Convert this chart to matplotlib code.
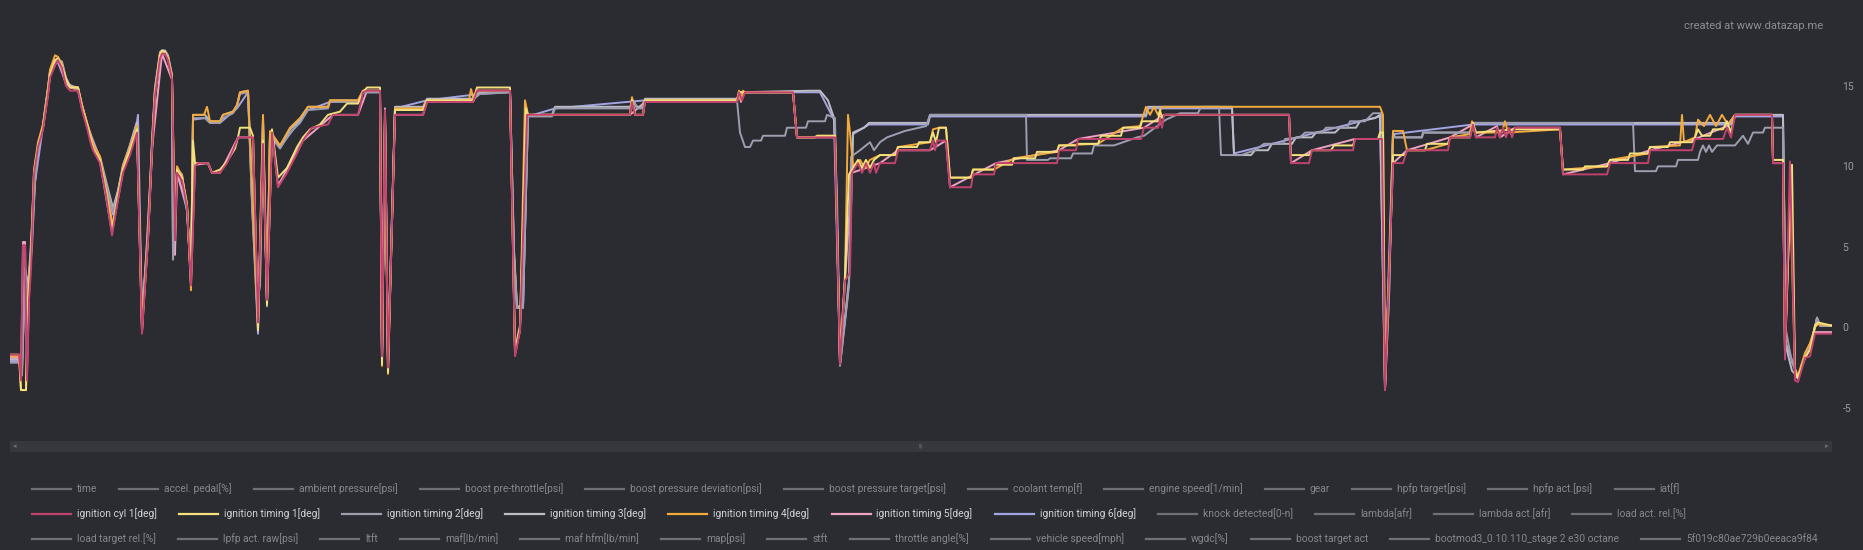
import matplotlib
matplotlib.use("Agg")
import matplotlib.pyplot as plt
from matplotlib.lines import Line2D
from matplotlib.patches import Rectangle

W, H = 1863, 550
BG = "#2b2c31"

# readings: (time [s], ignition angle [deg])
ign_cyl1 = [
    (0.0, -1.7), (0.9, -1.7), (1.1, -3.3), (1.3, 5.1), (1.5, 5.1), (1.7, -3.3), (1.9, 1.7), (2.1, 3.6),
    (2.4, 9.5), (2.8, 11.2), (3.3, 12.3), (3.8, 14.4), (4.0, 15.5), (4.5, 16.3), (4.8, 16.6), (5.2, 16.1),
    (5.6, 15.0), (6.0, 14.7), (6.8, 14.7), (7.2, 13.5), (7.7, 12.4), (8.0, 11.6), (8.3, 11.0), (9.0, 10.2),
    (9.6, 8.2), (10.2, 5.7), (10.7, 7.6), (11.3, 9.6), (12.0, 10.7), (12.7, 12.1), (13.2, -0.4), (13.8, 5.4),
    (14.2, 11.0), (14.5, 14.4), (15.0, 16.7), (15.2, 17.0), (15.5, 17.0), (15.8, 16.6), (16.2, 15.4),
    (16.5, 5.4), (16.7, 9.6), (17.2, 9.1), (17.7, 7.5), (18.1, 2.6), (18.5, 10.0), (18.8, 10.2), (19.8, 10.2),
    (20.2, 9.6), (21.0, 9.6), (21.7, 10.2), (22.3, 11.0), (22.8, 11.8), (24.3, 11.8), (24.8, 0.3), (25.3, 11.4),
    (25.7, 1.7), (26.2, 12.1), (26.8, 8.7), (27.7, 9.6), (28.7, 10.8), (29.3, 11.6), (30.2, 12.4), (31.8, 12.6),
    (32.3, 13.2), (34.8, 13.2), (35.3, 14.6), (35.7, 14.7), (37.0, 14.7), (37.2, -1.8), (37.5, 13.5),
    (37.8, -2.5), (38.5, 13.2), (41.3, 13.2), (41.7, 14.0), (46.3, 14.0), (46.7, 14.7), (50.0, 14.7),
    (50.5, -1.8), (51.0, -0.2), (51.7, 13.2), (62.0, 13.2), (62.2, 14.0), (62.5, 13.2), (63.3, 13.2),
    (63.5, 14.0), (72.7, 14.0), (72.9, 14.6), (73.2, 14.1), (73.5, 14.6), (78.3, 14.6), (78.7, 11.8),
    (82.5, 11.8), (83.0, -2.3), (83.5, 2.9), (84.0, 3.4), (84.2, 9.6), (84.8, 10.2), (85.2, 9.6), (85.6, 10.2),
    (86.0, 9.6), (86.4, 10.2), (86.6, 9.6), (87.0, 10.2), (88.5, 10.2), (88.8, 11.0), (92.0, 11.0),
    (92.3, 11.6), (92.5, 11.0), (92.7, 11.6), (93.6, 11.6), (94.0, 8.7), (96.1, 8.7), (96.3, 9.5), (98.4, 9.5),
    (98.6, 10.2), (104.7, 10.2), (104.9, 11.0), (106.6, 11.0), (106.8, 11.7), (113.1, 11.7), (113.4, 12.4),
    (114.8, 12.4), (115.0, 13.0), (115.2, 12.4), (115.4, 13.2), (127.9, 13.2), (128.1, 10.2), (129.9, 10.2),
    (130.2, 11.0), (134.3, 11.0), (134.5, 11.7), (137.2, 11.7), (137.5, -3.9), (138.0, 4.8), (138.3, 10.2),
    (139.3, 10.2), (139.7, 11.0), (143.8, 11.0), (144.0, 11.8), (146.0, 11.8), (146.3, 12.6), (146.6, 11.8),
    (148.5, 11.8), (148.7, 12.4), (149.0, 11.8), (149.3, 12.4), (149.6, 11.8), (149.9, 12.4), (150.2, 11.8),
    (150.5, 12.4), (155.0, 12.4), (155.3, 9.5), (159.7, 9.5), (160.0, 10.2), (163.8, 10.2), (164.0, 11.0),
    (168.2, 11.0), (168.5, 11.7), (171.3, 11.7), (171.7, 12.4), (172.1, 11.8), (172.5, 13.2), (176.2, 13.2),
    (176.3, 10.2), (177.3, 10.2), (177.5, -2.0), (178.0, 10.3), (178.5, -3.3), (178.8, -3.4), (179.5, -1.9),
    (180.0, -1.8), (180.5, -0.4), (182.2, -0.4),
]

ign_timing1 = [
    (0.0, -1.7), (0.9, -1.7), (1.1, -3.9), (1.6, -3.9), (1.8, 1.7), (2.1, 4.2), (2.4, 9.6), (2.8, 11.3),
    (3.3, 12.4), (3.8, 14.5), (4.0, 15.7), (4.5, 16.6), (4.8, 16.7), (5.2, 16.2), (5.6, 15.4), (6.0, 14.9),
    (6.8, 14.9), (7.2, 13.6), (7.7, 12.6), (8.3, 11.1), (9.0, 10.4), (9.6, 8.4), (10.2, 6.0), (10.7, 7.9),
    (11.3, 9.8), (12.0, 11.0), (12.7, 12.3), (13.2, -0.2), (13.8, 5.5), (14.2, 11.1), (14.5, 14.6),
    (15.0, 16.9), (15.2, 17.2), (15.5, 17.1), (15.8, 16.7), (16.2, 15.5), (16.5, 5.7), (16.7, 9.8),
    (17.2, 9.3), (17.7, 7.6), (18.1, 2.8), (18.3, 11.6), (18.5, 10.2), (19.8, 10.2), (20.2, 9.6), (21.0, 9.8),
    (21.7, 10.3), (22.0, 10.6), (22.5, 11.1), (22.8, 11.8), (23.0, 12.4), (24.0, 12.4), (24.3, 11.9),
    (24.8, -0.2), (25.3, 11.6), (25.7, 1.4), (26.2, 12.3), (26.8, 9.3), (27.7, 9.9), (28.7, 11.2), (29.3, 11.8),
    (30.0, 12.3), (31.0, 12.6), (31.8, 13.2), (33.0, 13.4), (33.7, 13.9), (34.8, 13.9), (35.3, 14.6),
    (35.7, 14.9), (37.0, 14.9), (37.2, -2.3), (37.5, 13.2), (37.8, -2.8), (38.5, 13.5), (41.3, 13.5),
    (41.7, 14.1), (46.3, 14.1), (46.7, 14.9), (50.0, 14.9), (50.5, -1.4), (51.0, 0.1), (51.6, 13.6),
    (51.8, 13.2), (62.0, 13.2), (62.2, 14.1), (62.5, 13.2), (63.3, 13.2), (63.5, 14.1), (72.7, 14.1),
    (72.9, 14.6), (78.3, 14.6), (78.7, 11.8), (80.5, 11.8), (80.7, 11.9), (82.5, 11.9), (83.0, -1.9),
    (83.5, 3.2), (83.9, 9.5), (84.3, 9.9), (84.8, 10.4), (85.2, 9.9), (85.6, 10.4), (86.0, 9.9), (86.4, 10.4),
    (87.0, 10.7), (88.5, 10.7), (88.8, 11.2), (90.7, 11.2), (90.9, 11.5), (92.0, 11.5), (92.3, 12.1),
    (92.6, 11.5), (92.9, 12.4), (93.6, 12.4), (94.0, 9.3), (96.1, 9.3), (96.3, 9.8), (98.4, 9.8), (98.6, 10.1),
    (100.2, 10.1), (100.4, 10.5), (102.5, 10.5), (102.7, 10.9), (104.7, 10.9), (104.9, 11.3), (106.6, 11.3),
    (106.8, 11.4), (108.8, 11.4), (109.1, 11.9), (111.1, 11.9), (111.3, 12.4), (113.0, 12.4), (113.2, 12.8),
    (114.8, 12.8), (115.0, 13.5), (115.2, 13.0), (115.4, 13.2), (127.9, 13.2), (128.1, 10.7), (129.9, 10.7),
    (130.2, 11.0), (132.1, 11.0), (132.4, 11.3), (134.3, 11.3), (134.5, 11.7), (136.8, 11.7), (137.0, 12.1),
    (137.3, 12.1), (137.5, -3.6), (138.0, 4.8), (138.3, 10.7), (139.5, 10.7), (139.7, 11.0), (141.5, 11.0),
    (141.7, 11.4), (143.8, 11.4), (144.0, 11.8), (146.0, 11.8), (146.3, 12.7), (146.6, 12.1), (150.5, 12.3),
    (155.0, 12.3), (155.3, 9.8), (157.3, 9.8), (157.5, 10.0), (159.7, 10.0), (160.0, 10.4), (161.8, 10.4),
    (162.0, 10.8), (163.8, 10.8), (164.0, 11.2), (165.8, 11.2), (166.0, 11.5), (168.2, 11.5), (168.5, 11.8),
    (168.8, 12.3), (169.2, 11.9), (170.0, 11.9), (170.3, 12.3), (171.3, 12.3), (171.7, 12.8), (172.1, 12.1),
    (172.5, 13.2), (176.2, 13.2), (176.3, 10.4), (177.3, 10.4), (177.5, -1.7), (178.0, 7.9), (178.2, 10.1),
    (178.5, -2.8), (178.8, -3.1), (179.5, -1.9), (180.0, -1.4), (180.5, 0.1), (180.8, 0.3), (182.2, 0.1),
]

ign_timing2 = [
    (0.0, -2.2), (1.0, -2.2), (1.2, -3.0), (1.5, 3.2), (1.8, 2.2), (2.2, 5.0), (2.5, 9.0), (2.8, 11.0),
    (3.3, 12.5), (3.8, 14.7), (4.0, 15.8), (4.7, 16.6), (5.2, 16.4), (5.6, 15.3), (6.0, 14.9), (6.8, 14.8),
    (7.2, 13.7), (7.7, 12.6), (8.3, 11.3), (9.0, 10.5), (9.6, 8.9), (10.3, 7.2), (10.8, 8.3), (11.3, 10.0),
    (12.0, 11.2), (12.7, 12.5), (13.2, 0.7), (13.8, 5.7), (14.2, 11.4), (14.5, 14.8), (15.0, 17.0),
    (15.5, 17.1), (15.8, 16.8), (16.2, 15.6), (16.3, 4.2), (16.7, 9.7), (17.2, 9.4), (17.7, 7.2), (18.1, 3.0),
    (18.3, 13.0), (19.5, 13.0), (20.0, 12.7), (21.0, 12.7), (21.3, 13.0), (22.3, 13.3), (22.7, 13.7),
    (23.0, 14.5), (23.8, 14.6), (24.2, 7.6), (24.7, 1.4), (25.0, 2.6), (25.3, 12.9), (25.7, 1.3), (26.0, 11.9),
    (27.0, 11.1), (28.0, 12.1), (29.0, 12.7), (29.8, 13.5), (31.8, 13.6), (32.0, 14.0), (34.8, 14.0),
    (35.3, 14.6), (37.0, 14.6), (37.2, -1.9), (37.5, 13.0), (37.8, -2.0), (38.5, 13.6), (41.3, 13.6),
    (41.7, 14.1), (46.2, 14.1), (47.0, 14.5), (50.0, 14.6), (50.4, 4.5), (50.7, 1.2), (51.3, 1.2), (51.8, 13.1),
    (54.2, 13.1), (54.5, 13.6), (62.0, 13.6), (62.3, 14.1), (62.7, 13.6), (63.2, 13.6), (63.5, 14.1),
    (72.7, 14.1), (73.0, 12.1), (73.5, 11.2), (74.0, 11.2), (74.3, 11.6), (75.1, 11.6), (75.3, 11.9),
    (77.5, 11.9), (77.7, 12.4), (79.6, 12.4), (79.8, 12.8), (81.5, 12.8), (81.7, 13.2), (82.5, 13.0),
    (83.0, -2.4), (83.5, 0.3), (83.9, 2.6), (84.1, 10.6), (85.0, 11.0), (86.0, 11.5), (86.4, 11.0), (87.0, 11.5),
    (87.7, 11.8), (89.5, 12.2), (91.6, 12.5), (92.0, 13.2), (101.6, 13.2), (101.7, 10.4), (103.8, 10.4),
    (104.0, 10.5), (106.1, 10.5), (106.3, 10.8), (108.2, 10.8), (108.4, 11.3), (110.4, 11.3), (112.7, 11.8),
    (113.4, 11.9), (115.6, 12.9), (117.0, 13.3), (118.8, 13.3), (119.1, 13.7), (120.9, 13.7), (121.1, 10.7),
    (123.1, 10.7), (124.5, 11.0), (125.4, 11.4), (127.3, 11.4), (127.5, 11.7), (129.0, 11.8), (129.5, 12.1),
    (131.2, 12.1), (131.6, 12.4), (133.7, 12.4), (134.0, 12.8), (135.5, 12.8), (136.3, 13.3), (137.2, 13.3),
    (137.5, -3.9), (137.9, 1.8), (138.3, 11.9), (138.5, 11.8), (141.2, 11.8), (141.3, 12.1), (146.0, 12.1),
    (146.3, 12.7), (162.3, 12.7), (162.5, 9.7), (164.6, 9.7), (164.8, 10.0), (166.6, 10.0), (166.8, 10.4),
    (168.8, 10.4), (169.0, 10.9), (169.3, 11.3), (169.6, 10.9), (169.9, 11.3), (170.2, 10.9), (170.7, 11.3),
    (172.5, 11.3), (173.3, 11.9), (173.8, 11.4), (174.3, 12.1), (175.3, 12.1), (175.5, 12.4), (177.3, 12.4),
    (177.6, -0.2), (178.2, -2.2), (178.8, -3.0), (179.5, -1.9), (180.2, -0.8), (180.7, 0.6), (181.0, 0.1),
    (182.2, 0.1),
]

ign_timing3 = [
    (0.0, -2.0), (1.0, -2.0), (1.2, -2.8), (1.5, 3.7), (1.8, 2.6), (2.2, 5.4), (2.5, 9.1), (2.8, 11.0),
    (3.3, 12.6), (3.8, 14.9), (4.0, 15.9), (4.7, 16.7), (5.2, 16.5), (5.6, 15.5), (6.0, 15.0), (6.8, 14.9),
    (7.2, 13.8), (7.7, 12.7), (8.3, 11.4), (9.0, 10.6), (9.6, 9.1), (10.3, 7.4), (10.8, 8.5), (11.3, 10.1),
    (12.0, 11.3), (12.7, 12.7), (13.2, 0.9), (13.8, 5.9), (14.2, 11.6), (14.5, 14.9), (15.0, 17.1),
    (15.2, 17.2), (15.5, 17.2), (15.8, 16.9), (16.2, 15.7), (16.3, 4.9), (16.7, 9.8), (17.2, 9.5), (17.7, 7.3),
    (18.1, 3.2), (18.3, 13.2), (19.5, 13.2), (20.0, 12.8), (21.0, 12.8), (21.3, 13.2), (22.3, 13.4),
    (22.7, 13.8), (23.0, 14.6), (23.8, 14.7), (24.2, 8.1), (24.7, 1.7), (25.0, 2.9), (25.3, 13.1), (25.7, 1.7),
    (26.0, 12.1), (27.0, 11.2), (28.0, 12.3), (29.0, 12.9), (29.8, 13.7), (31.8, 13.7), (32.0, 14.1),
    (34.8, 14.1), (35.3, 14.7), (37.0, 14.7), (37.2, -2.0), (37.5, 13.1), (37.8, -2.2), (38.5, 13.7),
    (41.3, 13.7), (41.7, 14.2), (46.2, 14.2), (47.0, 14.6), (50.0, 14.7), (50.4, 4.8), (50.7, 1.3), (51.3, 1.3),
    (51.8, 13.2), (54.2, 13.2), (54.5, 13.7), (62.0, 13.7), (62.3, 14.1), (62.7, 13.7), (63.2, 13.7),
    (63.5, 14.2), (72.7, 14.2), (73.0, 14.6), (80.0, 14.7), (81.0, 14.7), (81.8, 14.1), (82.4, 13.0),
    (82.7, 8.0), (83.0, -2.3), (83.5, 0.5), (83.9, 2.9), (84.3, 12.1), (85.4, 12.4), (85.9, 12.7), (91.8, 12.7),
    (92.0, 13.2), (113.6, 13.2), (113.8, 13.7), (122.2, 13.7), (122.4, 10.7), (124.1, 10.7), (124.5, 11.0),
    (125.8, 11.0), (126.2, 11.4), (128.2, 11.4), (128.6, 11.8), (130.2, 11.8), (130.6, 12.1), (132.5, 12.1),
    (133.0, 12.4), (134.6, 12.4), (135.0, 12.8), (136.5, 13.0), (137.0, 13.2), (137.5, -3.8), (137.9, 2.0),
    (138.3, 12.1), (138.5, 11.8), (141.2, 11.8), (141.3, 12.1), (146.0, 12.1), (146.3, 12.7), (172.2, 12.7),
    (172.5, 13.2), (177.3, 13.2), (177.6, -1.2), (178.2, -2.7), (178.8, -3.1), (179.5, -1.7), (180.2, -0.8),
    (180.7, 0.6), (181.0, 0.1), (182.2, 0.1),
]

ign_timing4 = [
    (0.0, -1.8), (0.9, -1.8), (1.1, -3.9), (1.6, -3.9), (1.8, 2.0), (2.1, 4.5), (2.4, 9.8), (2.8, 11.5),
    (3.3, 12.6), (3.8, 14.8), (4.0, 16.0), (4.5, 16.9), (4.8, 16.8), (5.2, 16.3), (5.6, 15.4), (6.0, 14.9),
    (6.8, 14.9), (7.2, 13.8), (7.7, 12.7), (8.3, 11.4), (9.0, 10.6), (9.6, 8.6), (10.3, 6.3), (10.8, 8.2),
    (11.3, 10.0), (12.0, 11.2), (12.7, 12.5), (13.2, 0.0), (13.8, 5.6), (14.2, 11.3), (14.5, 14.7),
    (15.0, 17.0), (15.3, 17.1), (15.8, 16.8), (16.2, 15.6), (16.5, 6.0), (16.7, 10.0), (17.2, 9.4),
    (17.7, 7.7), (18.1, 2.3), (18.3, 13.2), (19.4, 13.2), (19.7, 13.7), (20.0, 12.8), (21.0, 12.8),
    (21.3, 13.2), (22.3, 13.4), (22.7, 13.8), (23.0, 14.6), (23.8, 14.7), (24.2, 9.0), (24.8, 0.0),
    (25.3, 13.2), (25.7, 1.5), (26.0, 12.2), (27.0, 11.3), (28.0, 12.4), (29.0, 13.0), (29.8, 13.7),
    (31.8, 13.7), (32.0, 14.1), (34.8, 14.1), (35.3, 14.7), (37.0, 14.7), (37.2, -2.4), (37.5, 13.3),
    (37.8, -2.9), (38.5, 13.6), (41.3, 13.6), (41.7, 14.1), (45.9, 14.1), (46.1, 14.8), (46.4, 14.1),
    (46.7, 14.7), (50.0, 14.7), (50.5, -1.6), (51.0, -0.2), (51.5, 14.1), (51.8, 13.2), (62.0, 13.2),
    (62.2, 14.3), (62.5, 13.2), (63.3, 13.2), (63.5, 14.1), (72.7, 14.1), (72.9, 14.7), (73.1, 14.1),
    (73.3, 14.7), (73.5, 14.6), (78.3, 14.6), (78.7, 11.8), (80.5, 11.8), (80.7, 11.9), (82.5, 11.9),
    (83.0, -2.0), (83.5, 3.0), (83.8, 13.2), (84.0, 12.1), (84.3, 10.0), (85.0, 10.4), (85.5, 9.9),
    (86.0, 10.4), (87.0, 10.7), (88.5, 10.7), (88.8, 11.2), (92.0, 11.5), (92.3, 12.3), (92.9, 12.4),
    (93.6, 12.4), (94.0, 9.3), (96.1, 9.3), (96.3, 9.8), (98.4, 9.8), (100.4, 10.5), (104.7, 10.9),
    (104.9, 11.3), (108.8, 11.4), (111.3, 12.4), (113.0, 12.5), (113.6, 13.7), (114.0, 13.2), (114.4, 13.7),
    (114.8, 13.2), (115.2, 13.7), (137.0, 13.7), (137.3, 13.2), (137.5, -3.7), (138.0, 5.0), (138.3, 12.2),
    (139.3, 12.2), (139.7, 11.0), (141.5, 11.0), (143.8, 11.4), (144.0, 11.8), (146.0, 12.0), (146.2, 12.8),
    (146.5, 12.1), (149.2, 12.1), (149.5, 12.8), (149.8, 12.1), (155.0, 12.3), (155.3, 9.8), (159.7, 10.0),
    (160.0, 10.4), (163.8, 10.8), (164.0, 11.2), (167.0, 11.3), (167.2, 13.2), (167.4, 11.5), (168.5, 11.8),
    (168.8, 12.9), (169.4, 12.5), (170.0, 13.2), (170.6, 12.5), (171.2, 13.2), (171.8, 12.6), (172.5, 13.2),
    (176.2, 13.2), (176.3, 10.4), (177.3, 10.4), (177.5, -1.5), (178.0, 8.5), (178.5, -2.6), (178.8, -3.0),
    (179.5, -1.6), (180.0, -1.0), (180.5, 0.0), (180.8, 0.2), (182.2, 0.1),
]

ign_timing5 = [
    (0.0, -1.9), (0.9, -1.9), (1.1, -3.0), (1.3, 5.3), (1.5, 5.3), (1.7, -2.9), (1.9, 2.0), (2.3, 8.0),
    (2.8, 11.2), (3.3, 12.4), (4.0, 15.6), (4.8, 16.7), (5.6, 15.1), (6.8, 14.7), (7.7, 12.5), (9.0, 10.3),
    (10.2, 5.9), (11.3, 9.7), (12.7, 12.2), (13.2, -0.3), (14.2, 11.1), (15.2, 17.0), (16.2, 15.4),
    (16.5, 4.5), (16.7, 9.6), (17.7, 7.5), (18.1, 2.7), (18.5, 10.1), (19.8, 10.2), (20.2, 9.6), (21.0, 9.6),
    (22.8, 11.8), (24.3, 11.8), (24.8, 0.4), (25.3, 11.5), (25.7, 1.6), (26.2, 12.1), (26.8, 8.8),
    (29.3, 11.6), (32.3, 13.2), (34.8, 13.2), (35.7, 14.7), (37.0, 14.7), (37.2, -1.7), (37.5, 13.6),
    (37.8, -2.4), (38.5, 13.2), (41.3, 13.2), (41.7, 14.0), (46.3, 14.0), (46.7, 14.7), (50.0, 14.7),
    (50.5, -1.7), (51.0, -0.1), (51.7, 13.2), (62.0, 13.2), (63.5, 14.0), (72.7, 14.0), (72.9, 14.6),
    (73.1, 14.0), (73.3, 14.6), (78.3, 14.6), (78.7, 11.8), (82.5, 11.8), (83.0, -2.2), (83.5, 2.9),
    (84.2, 9.6), (87.0, 10.2), (88.8, 11.0), (92.0, 11.0), (93.6, 11.6), (94.0, 8.7), (98.6, 10.2),
    (104.9, 11.0), (106.8, 11.7), (113.4, 12.4), (115.4, 13.2), (127.9, 13.2), (128.1, 10.2), (130.2, 11.0),
    (134.5, 11.7), (137.2, 11.7), (137.5, -3.8), (138.3, 10.2), (139.7, 11.0), (144.0, 11.8), (146.3, 12.6),
    (146.6, 11.8), (148.7, 12.5), (149.0, 11.8), (150.5, 12.4), (155.0, 12.4), (155.3, 9.5), (160.0, 10.2),
    (164.0, 11.0), (168.5, 11.7), (171.7, 12.5), (172.5, 13.2), (176.2, 13.2), (176.3, 10.2), (177.3, 10.2),
    (177.5, -1.6), (178.1, 9.5), (178.5, -3.0), (178.8, -3.2), (179.5, -1.8), (180.5, -0.3), (182.2, -0.3),
]

ign_timing6 = [
    (0.0, -2.1), (1.0, -2.1), (1.2, -2.5), (1.5, 3.5), (1.8, 2.4), (2.5, 9.0), (3.3, 12.5), (4.0, 15.8),
    (4.7, 16.6), (5.6, 15.2), (6.8, 14.8), (7.7, 12.6), (9.0, 10.5), (10.3, 7.0), (11.3, 9.9), (12.7, 12.8),
    (12.8, 13.2), (13.2, 0.3), (13.8, 5.6), (14.5, 14.7), (15.2, 17.1), (15.8, 16.8), (16.2, 15.5),
    (16.3, 4.6), (16.7, 9.6), (17.7, 7.3), (18.1, 2.9), (18.3, 12.9), (19.5, 13.0), (20.0, 12.7), (21.0, 12.7),
    (22.7, 13.6), (23.8, 14.6), (24.2, 7.8), (24.8, -0.4), (25.3, 12.8), (25.7, 1.5), (26.0, 12.0),
    (27.0, 11.2), (29.8, 13.5), (32.0, 14.0), (34.8, 14.0), (35.3, 14.6), (37.0, 14.6), (37.2, -2.0),
    (37.5, 13.0), (37.8, -2.1), (38.5, 13.6), (41.7, 14.1), (47.0, 14.5), (50.0, 14.6), (50.4, 4.6),
    (50.7, 1.2), (51.3, 1.2), (51.8, 13.1), (54.5, 13.6), (63.5, 14.1), (72.7, 14.1), (73.0, 14.6),
    (81.0, 14.6), (82.4, 12.9), (83.0, -2.3), (83.9, 2.8), (84.3, 12.0), (85.9, 12.6), (91.8, 12.6),
    (92.0, 13.1), (113.6, 13.1), (113.8, 13.6), (122.2, 13.6), (122.4, 10.8), (137.0, 13.1), (137.5, -3.7),
    (138.3, 12.0), (146.3, 12.6), (172.2, 12.6), (172.5, 13.1), (177.3, 13.1), (177.6, -1.0), (178.8, -3.1),
    (180.2, -0.7), (180.7, 0.5), (181.0, 0.1), (182.2, 0.1),
]

# every channel of the log, in legend order; only the ignition ones are switched on
channels = [
    "time", "accel. pedal[%]", "ambient pressure[psi]", "boost pre-throttle[psi]",
    "boost pressure deviation[psi]", "boost pressure target[psi]", "coolant temp[f]",
    "engine speed[1/min]", "gear", "hpfp target[psi]", "hpfp act.[psi]", "iat[f]",
    "ignition cyl 1[deg]", "ignition timing 1[deg]", "ignition timing 2[deg]", "ignition timing 3[deg]",
    "ignition timing 4[deg]", "ignition timing 5[deg]", "ignition timing 6[deg]", "knock detected[0-n]",
    "lambda[afr]", "lambda act.[afr]", "load act. rel.[%]",
    "load target rel.[%]", "lpfp act. raw[psi]", "ltft", "maf[lb/min]", "maf hfm[lb/min]", "map[psi]",
    "stft", "throttle angle[%]", "vehicle speed[mph]", "wgdc[%]", "boost target act",
    "bootmod3_0.10.110_stage 2 e30 octane", "5f019c80ae729b0eeaca9f84",
]
row_sizes = [12, 11, 13]

# name -> (data, colour, zorder)
active = {
    "ignition timing 6[deg]": (ign_timing6, "#a4a4e2", 2),
    "ignition timing 5[deg]": (ign_timing5, "#eea3c4", 3),
    "ignition timing 3[deg]": (ign_timing3, "#bdbdc7", 4),
    "ignition timing 2[deg]": (ign_timing2, "#9d9eb0", 5),
    "ignition timing 4[deg]": (ign_timing4, "#f3aa3c", 6),
    "ignition timing 1[deg]": (ign_timing1, "#f4e07c", 7),
    "ignition cyl 1[deg]": (ign_cyl1, "#c2426e", 8),
}

y_ticks = [-5, 0, 5, 10, 15]

plt.rcParams["font.family"] = ["Roboto", "DejaVu Sans"]

fig = plt.figure(figsize=(W / 100, H / 100), dpi=100, facecolor=BG)


def fx(px):
    return px / W


def fy(py):
    return 1 - py / H


# plot area: x 10..1832 px, y 40..420 px
ax = fig.add_axes([fx(10), fy(420), fx(1832) - fx(10), fy(40) - fy(420)])
ax.set_facecolor(BG)
for name, (data, color, z) in active.items():
    ts = [p[0] for p in data]
    vs = [p[1] for p in data]
    ax.plot(ts, vs, color=color, lw=1.4, zorder=z, solid_joinstyle="round")

ax.set_xlim(0, 182.2)
ax.set_ylim(-5.76, 17.85)
ax.set_xticks([])
ax.set_yticks(y_ticks)
ax.set_yticklabels([str(v) for v in y_ticks])
ax.yaxis.tick_right()
ax.tick_params(axis="y", length=0, pad=7.5, labelsize=7.5, labelcolor="#9a9ba0")
for s in ax.spines.values():
    s.set_visible(False)

# scrollbar under the plot
fig.patches.append(Rectangle((fx(10), fy(452)), fx(1832) - fx(10), fy(441) - fy(452),
                             transform=fig.transFigure, facecolor="#37383d", edgecolor="none"))
fig.text(fx(15), fy(446.5), "◂", color="#6d6e73", fontsize=5, ha="center", va="center",
         family=["DejaVu Sans"])
fig.text(fx(1827), fy(446.5), "▸", color="#6d6e73", fontsize=5, ha="center", va="center",
         family=["DejaVu Sans"])
fig.text(fx(921), fy(446.5), "|||", color="#6d6e73", fontsize=4.5, ha="center", va="center")

# watermark
fig.text(fx(1823), fy(26), "created at www.datazap.me", color="#8d8e93", fontsize=8,
         ha="right", va="center")

# legend, laid out as a wrapped flow of rows
renderer = fig.canvas.get_renderer()
row_y = [489, 514, 539]
idx = 0
for r, n in enumerate(row_sizes):
    x = 32
    y = row_y[r]
    for name in channels[idx:idx + n]:
        if name in active:
            lc = active[name][1]
            tc = "#d2d3d7"
        else:
            lc = "#6f7075"
            tc = "#86878c"
        fig.add_artist(Line2D([fx(x), fx(x + 39)], [fy(y), fy(y)], transform=fig.transFigure,
                              color=lc, lw=1.6))
        t = fig.text(fx(x + 45), fy(y), name, color=tc, fontsize=7.4, ha="left", va="center")
        w = t.get_window_extent(renderer).width
        x = x + 45 + w + 22
    idx += n

fig.savefig("out.png", dpi=100, facecolor=BG)
